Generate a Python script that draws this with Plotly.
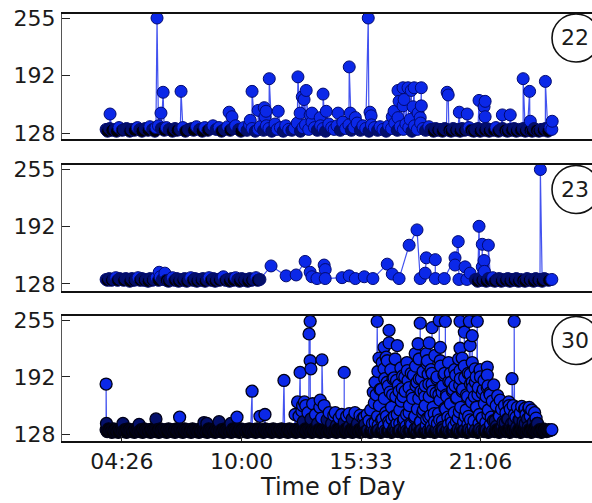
import plotly.graph_objects as go

# Time of day in minutes after midnight, bytes values.
tick_minutes = [266, 600, 933, 1266]
tick_labels = ["04:26", "10:00", "15:33", "21:06"]
y_ticks = [128, 192, 255]
panel_names = ["22", "23", "30"]

p22_base_t = [222, 226, 232, 238, 247, 251, 258, 267, 272, 279, 288, 294, 301, 309, 316, 322, 331, 339, 344, 352,
              358, 368, 376, 384, 390, 398, 407, 414, 420, 429, 436, 443, 452, 461, 466, 474, 483, 490, 497, 506,
              514, 520, 529, 537, 544, 552, 561, 568, 575, 583, 592, 598, 606, 615, 622, 629, 638, 646, 652, 661,
              669, 676, 684, 693, 699, 708, 716, 723, 731, 740, 747, 755, 764, 771, 778, 787, 796, 803, 811, 820,
              827, 834, 843, 851, 858, 866, 875, 882, 890, 899, 906, 913, 922, 931, 938, 946, 955, 962, 970, 979,
              986, 994, 1003, 1010, 1018, 1027, 1034, 1042, 1051, 1058, 1066, 1075, 1082, 1090, 1099, 1106, 1113, 1122, 1128, 1135,
              1141, 1147, 1153, 1160, 1166, 1171, 1178, 1184, 1190, 1197, 1203, 1209, 1215, 1222, 1228, 1234, 1240, 1247, 1253, 1259,
              1265, 1272, 1278, 1284, 1290, 1297, 1303, 1309, 1316, 1322, 1328, 1334, 1341, 1347, 1353, 1360, 1366, 1372, 1378, 1385,
              1391, 1397, 1404, 1410, 1416, 1422, 1429, 1435, 1441, 1447, 1454, 1460, 1465]
p22_base_v = [132, 130, 133, 131, 132, 130, 134, 131, 132, 133, 130, 132, 131, 134, 132, 130, 133, 131, 135, 132,
              130, 136, 133, 131, 134, 132, 130, 133, 131, 132, 134, 130, 132, 133, 131, 135, 132, 130, 134, 131,
              133, 136, 132, 134, 130, 132, 135, 131, 133, 136, 132, 130, 134, 131, 137, 133, 130, 132, 135, 131,
              136, 133, 130, 138, 132, 134, 130, 136, 132, 131, 133, 139, 130, 134, 137, 132, 140, 134, 131, 136,
              133, 130, 138, 134, 132, 136, 131, 140, 133, 137, 131, 134, 139, 131, 136, 133, 130, 137, 134, 131,
              135, 132, 130, 136, 133, 139, 131, 135, 132, 138, 134, 130, 136, 132, 139, 133, 131, 135, 132, 130,
              133, 131, 132, 130, 133, 132, 131, 130, 133, 131, 132, 130, 133, 131, 132, 134, 131, 130, 132, 133,
              130, 132, 131, 133, 130, 132, 131, 134, 130, 132, 133, 131, 130, 132, 131, 133, 130, 132, 131, 133,
              130, 132, 131, 130, 133, 131, 130, 132, 131, 133, 130, 134, 132]
p22_peak_t = [233, 361, 364, 375, 381, 431, 565, 573, 624, 629, 646, 663, 665, 668, 677, 702, 757, 763, 769, 774,
              780, 791, 796, 819, 827, 836, 869, 900, 903, 917, 953, 958, 961, 1020, 1025, 1036, 1036, 1039, 1050, 1050,
              1053, 1064, 1070, 1073, 1078, 1081, 1092, 1098, 1101, 1101, 1173, 1176, 1207, 1229, 1262, 1279, 1276, 1279, 1327, 1349,
              1385, 1403, 1405, 1447, 1466]
p22_peak_v = [149, 134, 255, 150, 173, 174, 151, 146, 142, 174, 153, 156, 146, 152, 188, 152, 190, 150, 168, 165,
              175, 148, 150, 145, 171, 152, 150, 201, 150, 145, 255, 151, 147, 146, 152, 145, 175, 163, 178, 158,
              165, 178, 143, 175, 157, 178, 150, 145, 178, 158, 173, 170, 151, 149, 164, 163, 157, 146, 148, 148,
              188, 174, 141, 185, 141]

p23_base_t = [222, 226, 231, 237, 243, 249, 254, 260, 266, 271, 277, 283, 288, 294, 300, 305, 311, 317, 322, 328,
              334, 339, 345, 351, 356, 362, 368, 373, 379, 385, 390, 396, 402, 407, 413, 419, 424, 430, 436, 441,
              447, 453, 458, 464, 470, 475, 481, 487, 492, 498, 504, 509, 515, 521, 526, 532, 538, 543, 549, 555,
              560, 566, 572, 577, 583, 589, 594, 600, 606, 611, 617, 623, 628, 634, 640, 645, 651, 1206, 1228, 1252,
              1258, 1264, 1270, 1276, 1282, 1288, 1294, 1300, 1306, 1312, 1318, 1324, 1330, 1336, 1342, 1348, 1354, 1360, 1366, 1372,
              1378, 1384, 1390, 1396, 1402, 1408, 1414, 1420, 1426, 1432, 1438, 1444, 1450, 1456, 1465]
p23_base_v = [133, 132, 134, 132, 133, 135, 132, 134, 133, 132, 134, 133, 131, 134, 132, 133, 135, 132, 134, 132,
              133, 131, 134, 132, 133, 135, 132, 136, 133, 134, 132, 131, 133, 135, 132, 134, 131, 133, 132, 134,
              131, 133, 135, 132, 134, 131, 133, 132, 134, 131, 133, 135, 132, 134, 131, 133, 132, 134, 136, 132,
              133, 131, 134, 132, 135, 133, 131, 134, 132, 133, 131, 134, 132, 133, 135, 132, 133, 133, 133, 133,
              131, 134, 132, 133, 131, 134, 132, 135, 131, 133, 134, 131, 133, 132, 134, 131, 133, 132, 134, 131,
              133, 132, 131, 134, 132, 133, 131, 134, 132, 133, 131, 134, 133, 132, 133]
p23_peak_t = [370, 386, 682, 724, 752, 777, 791, 796, 810, 830, 833, 833, 880, 900, 917, 942, 966, 1006, 1020, 1039,
              1067, 1089, 1098, 1112, 1115, 1140, 1140, 1165, 1195, 1195, 1204, 1223, 1237, 1262, 1271, 1271, 1276, 1277, 1288, 1433]
p23_peak_v = [141, 140, 148, 137, 138, 153, 141, 136, 134, 149, 144, 134, 135, 137, 134, 136, 134, 150, 139, 134,
              171, 188, 134, 140, 157, 155, 134, 134, 157, 149, 175, 147, 140, 192, 172, 147, 154, 142, 171, 255]

p30_base_t = [222, 225, 229, 234, 238, 243, 247, 252, 256, 261, 265, 270, 274, 279, 283, 288, 292, 297, 301, 306,
              310, 315, 319, 324, 328, 333, 337, 342, 346, 351, 355, 360, 364, 369, 373, 378, 382, 387, 391, 396,
              400, 405, 409, 414, 418, 423, 427, 432, 436, 441, 445, 450, 454, 459, 463, 468, 472, 477, 481, 486,
              490, 495, 499, 504, 508, 513, 517, 522, 526, 531, 535, 540, 544, 549, 553, 558, 562, 567, 571, 576,
              580, 585, 589, 594, 598, 603, 607, 612, 616, 621, 625, 630, 634, 639, 643, 648, 652, 657, 661, 666,
              670, 675, 679, 684, 688, 693, 697, 702, 706, 711, 715, 720, 724, 729, 733, 738, 742, 747, 751, 756,
              760, 765, 769, 774, 778, 783, 787, 792, 796, 801, 805, 810, 814, 819, 823, 828, 832, 837, 841, 846,
              850, 855, 859, 864, 868, 873, 877, 882, 886, 891, 895, 900, 904, 909, 913, 918, 922, 927, 931, 936,
              940, 946, 952, 958, 964, 970, 976, 982, 988, 994, 1000, 1006, 1012, 1018, 1024, 1030, 1036, 1042, 1048, 1054,
              1060, 1066, 1072, 1078, 1084, 1090, 1096, 1102, 1108, 1114, 1120, 1126, 1132, 1138, 1144, 1150, 1156, 1162, 1168, 1174,
              1180, 1186, 1192, 1198, 1204, 1210, 1216, 1222, 1228, 1234, 1240, 1246, 1252, 1258, 1264, 1270, 1276, 1282, 1288, 1294,
              1300, 1306, 1312, 1318, 1324, 1330, 1336, 1342, 1348, 1354, 1360, 1366, 1372, 1378, 1384, 1390, 1396, 1402, 1408, 1414,
              1420, 1426, 1431, 1436, 1441, 1446, 1451, 1456, 1460, 1465]
p30_base_v = [133, 131, 134, 132, 130, 134, 131, 133, 130, 134, 132, 131, 133, 130, 134, 132, 131, 133, 130, 134,
              132, 131, 133, 130, 134, 132, 131, 133, 130, 134, 132, 131, 133, 130, 134, 132, 131, 133, 130, 134,
              132, 131, 133, 130, 134, 132, 131, 133, 130, 134, 132, 131, 133, 130, 134, 132, 131, 133, 130, 134,
              132, 131, 133, 130, 134, 132, 131, 133, 130, 134, 132, 131, 133, 130, 134, 132, 131, 133, 130, 134,
              132, 131, 133, 130, 134, 132, 131, 133, 130, 134, 132, 131, 133, 130, 134, 132, 131, 133, 130, 134,
              132, 131, 133, 130, 134, 132, 131, 133, 130, 134, 132, 131, 133, 130, 134, 132, 131, 133, 130, 134,
              132, 131, 133, 130, 134, 132, 131, 133, 130, 134, 132, 131, 133, 130, 134, 132, 131, 133, 130, 134,
              132, 131, 133, 130, 134, 132, 131, 133, 130, 134, 132, 131, 133, 130, 134, 132, 131, 133, 130, 134,
              132, 131, 133, 130, 134, 132, 131, 133, 130, 134, 132, 131, 133, 130, 134, 132, 131, 133, 130, 134,
              132, 131, 133, 130, 134, 132, 131, 133, 130, 134, 132, 131, 133, 130, 134, 132, 131, 133, 130, 134,
              132, 131, 133, 130, 134, 132, 131, 133, 130, 134, 132, 131, 133, 130, 134, 132, 131, 133, 130, 134,
              132, 131, 133, 130, 134, 132, 131, 133, 130, 134, 132, 131, 133, 130, 134, 132, 131, 133, 130, 134,
              132, 131, 133, 130, 134, 132, 131, 133, 132, 133]
p30_peak_t = [222, 223, 269, 314, 361, 427, 495, 503, 537, 570, 587, 629, 651, 665, 718, 749, 756, 763, 770, 775,
              788, 791, 791, 793, 819, 824, 861, 886, 900, 942, 967, 978, 983, 997, 997, 1006, 1011, 1011, 1025, 1034,
              1048, 1062, 1084, 1092, 1095, 1098, 1112, 1115, 1117, 1123, 1131, 1131, 1151, 1154, 1154, 1159, 1168, 1182, 1195, 1209,
              1209, 1209, 1215, 1221, 1235, 1237, 1243, 1243, 1251, 1257, 1265, 1285, 1285, 1346, 1354, 1360, 1391, 1402, 1424]
p30_peak_v = [184, 140, 140, 139, 145, 147, 141, 140, 142, 140, 147, 176, 148, 150, 188, 150, 164, 197, 160, 164,
              240, 254, 210, 201, 166, 211, 152, 197, 151, 147, 175, 254, 213, 225, 201, 210, 244, 230, 191, 227,
              179, 199, 218, 229, 190, 252, 182, 218, 207, 230, 247, 196, 255, 225, 210, 175, 254, 196, 182, 254,
              224, 199, 213, 242, 254, 227, 238, 186, 201, 254, 199, 203, 180, 160, 190, 254, 157, 158, 140]
p30_fill_t = [760, 768, 772, 779, 785, 793, 798, 806, 812, 818, 823, 830, 838, 844, 851, 857, 865, 872, 879, 886,
              893, 901, 908, 916, 923, 930, 938, 944, 950, 955, 960, 965, 970, 975, 979, 984, 989, 993, 998, 1002,
              1006, 1010, 1014, 1018, 1022, 1026, 1030, 1033, 1037, 1041, 1045, 1049, 1053, 1056, 1060, 1064, 1068, 1071, 1075, 1079,
              1083, 1086, 1090, 1094, 1098, 1101, 1105, 1109, 1112, 1116, 1120, 1123, 1127, 1131, 1134, 1138, 1142, 1145, 1149, 1153,
              1156, 1160, 1164, 1167, 1171, 1175, 1178, 1182, 1186, 1189, 1193, 1197, 1200, 1204, 1208, 1211, 1215, 1219, 1222, 1226,
              1230, 1233, 1237, 1241, 1244, 1248, 1252, 1255, 1259, 1263, 1266, 1270, 1274, 1277, 1281, 1285, 1288, 1292, 1296, 1299,
              1303, 1307, 1310, 1314, 1318, 1321, 1325, 1329, 1333, 1337, 1341, 1345, 1349, 1353, 1357, 1361, 1365, 1369, 1373, 1377,
              1381, 1385, 1389, 1393, 1397, 1401, 1405, 1409, 1413, 1417, 1421, 1425,
              964, 972, 981, 990, 997, 1004, 1012, 1019, 1027, 1034, 1041, 1051, 1059, 1067, 1074, 1082, 1091, 1099, 1107, 1115,
              1122, 1129, 1137, 1146, 1152, 1161, 1169, 1177, 1184, 1192, 1199, 1207, 1214, 1223, 1231, 1238, 1246, 1254, 1262, 1271,
              1279, 1287, 1294, 1302, 1311, 1319, 1327, 1335, 1343, 1351, 1359, 1367, 1375, 1383, 1391, 1399]
p30_fill_v = [148, 154, 142, 160, 152, 145, 162, 150, 140, 158, 146, 160, 144, 152, 140, 149, 138, 146, 150, 141,
              148, 137, 145, 152, 140, 149, 146, 139, 150, 143, 155, 140, 163, 172, 148, 160, 178, 145, 168, 152,
              186, 142, 175, 158, 190, 148, 170, 140, 183, 155, 165, 193, 145, 176, 150, 188, 160, 140, 172, 194,
              148, 182, 156, 168, 142, 190, 152, 176, 160, 145, 195, 170, 149, 184, 158, 142, 174, 192, 151, 166,
              180, 143, 194, 157, 172, 147, 187, 162, 141, 178, 152, 194, 169, 146, 183, 158, 176, 142, 191, 155,
              170, 148, 195, 164, 180, 143, 186, 158, 172, 150, 192, 146, 178, 162, 141, 194, 155, 174, 147, 165,
              183, 143, 160, 171, 149, 166, 156, 142, 160, 152, 145, 164, 156, 140, 160, 150, 147, 158, 144, 152,
              159, 142, 156, 150, 145, 157, 148, 155, 141, 152, 146, 140,
              136, 141, 138, 144, 137, 148, 139, 145, 136, 150, 140, 143, 137, 152, 139, 146, 136, 142, 155, 138,
              147, 137, 151, 140, 144, 136, 156, 139, 146, 137, 142, 153, 136, 148, 139, 144, 137, 158, 140, 146,
              136, 150, 139, 143, 137, 148, 136, 141, 145, 137, 142, 136, 144, 137, 140, 136]
p30_upper_t = [972, 980, 986, 992, 999, 1003, 1009, 1016, 1021, 1028, 1032, 1039, 1044, 1050, 1055, 1061, 1067, 1073, 1077, 1085,
               1089, 1095, 1100, 1106, 1111, 1118, 1122, 1128, 1133, 1139, 1144, 1150, 1155, 1161, 1166, 1172, 1177, 1183, 1188, 1194,
               1199, 1205, 1210, 1216, 1221, 1227, 1232, 1238, 1243, 1249, 1254, 1260, 1265, 1271, 1276, 1282, 1287, 1293]
p30_upper_v = [186, 198, 178, 208, 190, 214, 182, 200, 172, 212, 188, 176, 202, 170, 192, 208, 180, 196, 168, 204,
               186, 212, 176, 198, 170, 210, 184, 200, 176, 216, 190, 172, 204, 182, 196, 170, 208, 186, 176, 200,
               168, 212, 190, 178, 204, 172, 196, 184, 208, 170, 192, 180, 200, 174, 188, 170, 182, 172]

panels = [
    (p22_base_t + p22_peak_t, p22_base_v + p22_peak_v),
    (p23_base_t + p23_peak_t, p23_base_v + p23_peak_v),
    (p30_base_t + p30_peak_t + p30_fill_t + p30_upper_t, p30_base_v + p30_peak_v + p30_fill_v + p30_upper_v),
]

BLUE, NAVY, BLACK = "#0b28e8", "#04106a", "#000008"
edge_colors = ["#020a70", "#020a70", "#000018"]
fig_edge_widths = [1, 1, 1.3]


def shade(panel, t, v):
    """Overlapping dots in the reference read as near black low in each band."""
    if t >= 1464:
        return BLUE
    if panel == 0:
        if 600 <= t < 1120:
            return NAVY if v <= 131 else BLUE
        return BLACK if v <= 131 else (NAVY if v <= 133 else BLUE)
    if panel == 1:
        if 660 <= t < 1250:
            return BLUE
        return BLACK if v <= 132 else (NAVY if v <= 134 else BLUE)
    if 950 <= t <= 1300:
        if v <= 131:
            return BLACK
        return NAVY if v <= 136 else BLUE
    if v <= 135:
        return BLACK
    return NAVY if v <= 145 else BLUE


W, H = 592, 503
boxes = [(13.5, 139.0, 121.4), (165.0, 291.0, 120.2), (316.0, 441.0, 120.4)]
fig = go.Figure()
for i, ((ts, vs), (top, bottom, low)) in enumerate(zip(panels, boxes)):
    pairs = sorted(zip(ts, vs), key=lambda p: p[0])
    sfx = "" if i == 0 else str(i + 1)
    fig.add_trace(go.Scatter(
        x=[p[0] for p in pairs], y=[p[1] for p in pairs], mode="lines+markers",
        xaxis="x" + sfx, yaxis="y" + sfx, showlegend=False,
        line=dict(color="rgba(20,40,235,0.8)", width=1.2),
        marker=dict(size=12, color=[shade(i, p[0], p[1]) for p in pairs],
                    line=dict(color=edge_colors[i], width=fig_edge_widths[i])),
    ))
    xa = dict(domain=[0, 1], range=[99, 1577], tickvals=tick_minutes,
              ticktext=tick_labels if i == 2 else None,
              showticklabels=i == 2, ticks="inside" if i == 2 else "", ticklen=5,
              tickcolor="#222222", tickwidth=1, showgrid=False, zeroline=False,
              showline=True, mirror=True, linecolor="#111111", linewidth=2,
              anchor="y" + sfx, tickfont=dict(family="DejaVu Sans", size=22, color="#1a1a1a"))
    ya = dict(domain=[1 - bottom / H, 1 - top / H], range=[low, 260], tickvals=y_ticks,
              ticks="inside", ticklen=8, tickcolor="#222222", tickwidth=1,
              showgrid=False, zeroline=False, showline=True, linecolor="#555555",
              linewidth=1, anchor="x" + sfx, ticklabelstandoff=1,
              tickfont=dict(family="DejaVu Sans", size=22, color="#1a1a1a"))
    fig.update_layout({"xaxis" + sfx: xa, "yaxis" + sfx: ya})

    cy = top + 24.5
    fig.add_shape(type="circle", xref="paper", yref="paper",
                  x0=(552 - 62) / (W - 62), x1=(600 - 62) / (W - 62),
                  y0=1 - (cy + 24) / H, y1=1 - (cy - 24) / H,
                  line=dict(color="#111111", width=1.6), fillcolor="white", layer="above")
    fig.add_annotation(text=panel_names[i], xref="paper", yref="paper",
                       x=(574.5 - 62) / (W - 62), y=1 - cy / H, showarrow=False,
                       xanchor="center", yanchor="middle",
                       font=dict(family="DejaVu Sans", size=22, color="#1a1a1a"))

fig.add_annotation(text="Time of Day", xref="paper", yref="paper",
                   x=(333 - 62) / (W - 62), y=1 - 487 / H, showarrow=False,
                   xanchor="center", yanchor="middle",
                   font=dict(family="DejaVu Sans", size=24, color="#1a1a1a"))
fig.update_layout(width=W, height=H, margin=dict(l=62, r=0, t=0, b=0, autoexpand=False),
                  paper_bgcolor="white", plot_bgcolor="white")
fig.write_html("out.html", config={"displayModeBar": False},
               post_script="document.body.style.margin='0';document.body.style.overflow='hidden';")
